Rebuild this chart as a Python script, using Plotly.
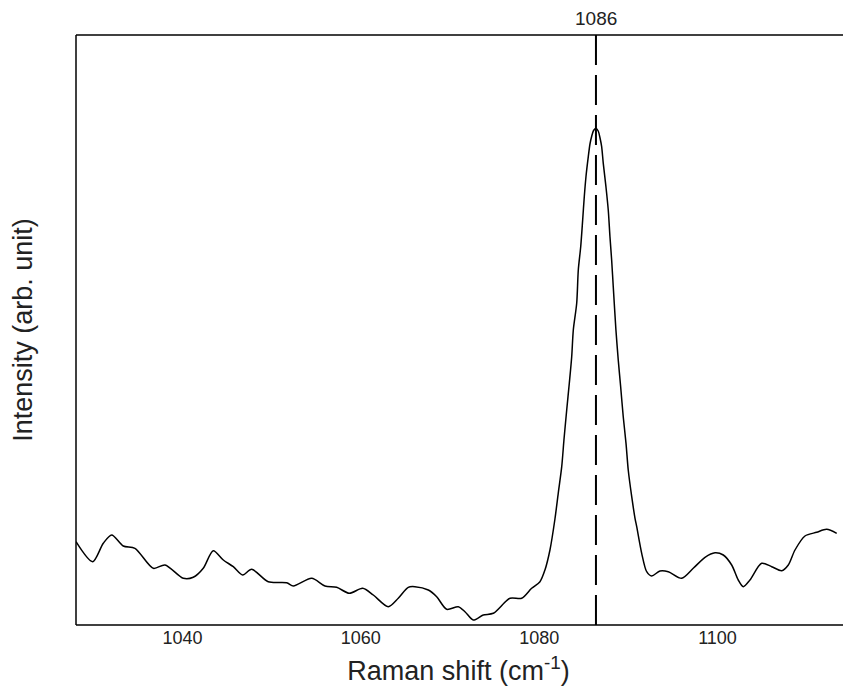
import plotly.graph_objects as go

# Raman shift (cm^-1)
raman_shift = [
    1028.06, 1029.93, 1031.12, 1032.06, 1033.36, 1034.67, 1036.73, 1038.04, 1040.09, 1041.21,
    1042.33, 1043.45, 1044.58, 1045.70, 1046.75, 1047.76, 1049.62, 1051.69, 1052.43, 1054.49,
    1055.98, 1057.29, 1058.71, 1060.21, 1061.40, 1063.08, 1064.20, 1065.32, 1066.07, 1067.57,
    1068.51, 1069.63, 1070.93, 1071.68, 1072.61, 1073.73, 1074.86, 1076.73, 1078.04, 1079.16,
    1080.09, 1080.65, 1081.21, 1081.77, 1082.14, 1082.53, 1082.78, 1083.09, 1083.38, 1083.65,
    1083.83, 1084.21, 1084.39, 1084.66, 1084.88, 1085.06, 1085.25, 1085.51, 1085.70, 1085.90,
    1086.10, 1086.37, 1086.62, 1086.85, 1087.01, 1087.19, 1087.49, 1087.75, 1087.94, 1088.13,
    1088.31, 1088.61, 1088.87, 1089.14, 1089.43, 1089.74, 1089.99, 1090.38, 1090.75, 1090.94,
    1091.50, 1092.06, 1092.62, 1093.55, 1094.48, 1095.98, 1097.28, 1098.60, 1099.72, 1100.65,
    1101.59, 1102.33, 1102.89, 1103.64, 1104.95, 1106.08, 1107.20, 1107.94, 1108.69, 1109.81,
    1111.12, 1112.24, 1113.37,
]

# Intensity (arb. unit)
intensity = [
    83.3, 63.3, 81.7, 90.0, 79.0, 76.7, 56.7, 60.0, 46.7, 47.7,
    56.7, 74.3, 65.0, 58.3, 50.0, 55.7, 43.3, 42.3, 39.0, 46.7,
    39.0, 37.7, 31.7, 36.7, 30.0, 18.3, 26.7, 37.7, 38.3, 35.0,
    28.3, 15.7, 18.3, 13.3, 5.0, 10.0, 11.7, 26.7, 26.7, 36.7,
    43.3, 55.0, 75.0, 106.0, 131.7, 158.3, 185.0, 215.0, 241.7, 268.3,
    295.0, 321.7, 355.0, 378.3, 405.0, 428.3, 448.3, 468.3, 481.0, 489.0,
    494.5, 496.5, 494.0, 486.0, 478.3, 461.7, 438.3, 415.0, 388.3, 365.0,
    338.3, 295.0, 265.0, 238.3, 208.3, 181.7, 155.0, 128.3, 106.7, 98.3,
    71.7, 53.3, 49.0, 54.0, 53.3, 46.7, 56.7, 67.7, 72.3, 70.0,
    60.0, 45.0, 38.3, 45.0, 61.7, 58.3, 54.3, 60.0, 75.0, 89.0,
    92.7, 95.7, 91.7,
]

peak_position = 1086.37
peak_label = "1086"
x_ticks = [1040, 1060, 1080, 1100]
x_range = [1028.06, 1113.85]
y_range = [0, 590]

FONT = "Liberation Sans, Arial"
R_MARGIN = 2
PLOT_W = 843 - 76 - R_MARGIN
edge = 1 + (R_MARGIN + 1) / PLOT_W  # carry top/bottom frame to the window edge

fig = go.Figure()
fig.add_trace(go.Scatter(
    x=raman_shift, y=intensity, mode="lines",
    line=dict(color="black", width=1.5, shape="spline", smoothing=0.8),
    showlegend=False, hoverinfo="skip",
))

# dashed marker at the peak
fig.add_shape(type="line", xref="x", yref="paper",
              x0=peak_position, x1=peak_position, y0=0, y1=1,
              line=dict(color="black", width=2, dash="30px,10px"))

# frame lines: top, bottom, left (no right edge)
for (x0, y0, x1, y1) in [(0, 1, edge, 1), (0, 0, edge, 0), (0, 0, 0, 1)]:
    fig.add_shape(type="line", xref="paper", yref="paper",
                  x0=x0, x1=x1, y0=y0, y1=y1,
                  line=dict(color="black", width=1.5))

fig.add_annotation(x=peak_position, xref="x", y=1, yref="paper",
                   text=peak_label, showarrow=False, yanchor="bottom", yshift=4,
                   font=dict(family=FONT, size=19, color="#222"))

fig.update_layout(
    width=843, height=696,
    margin=dict(l=76, r=R_MARGIN, t=35, b=71),
    plot_bgcolor="white", paper_bgcolor="white",
    font=dict(family=FONT, color="#222"),
    xaxis=dict(
        range=x_range, tickvals=x_ticks, ticktext=[str(t) for t in x_ticks],
        showgrid=False, zeroline=False, showline=False, ticks="", tickfont=dict(size=18),
        title=dict(text="Raman shift (cm<sup>-1</sup>)", font=dict(size=27), standoff=14),
    ),
    yaxis=dict(
        range=y_range, showgrid=False, zeroline=False, showline=False,
        showticklabels=False, ticks="",
        title=dict(text="Intensity (arb. unit)", font=dict(size=27), standoff=34),
    ),
)

fig.write_html("out.html", config={"displayModeBar": False, "staticPlot": True})
